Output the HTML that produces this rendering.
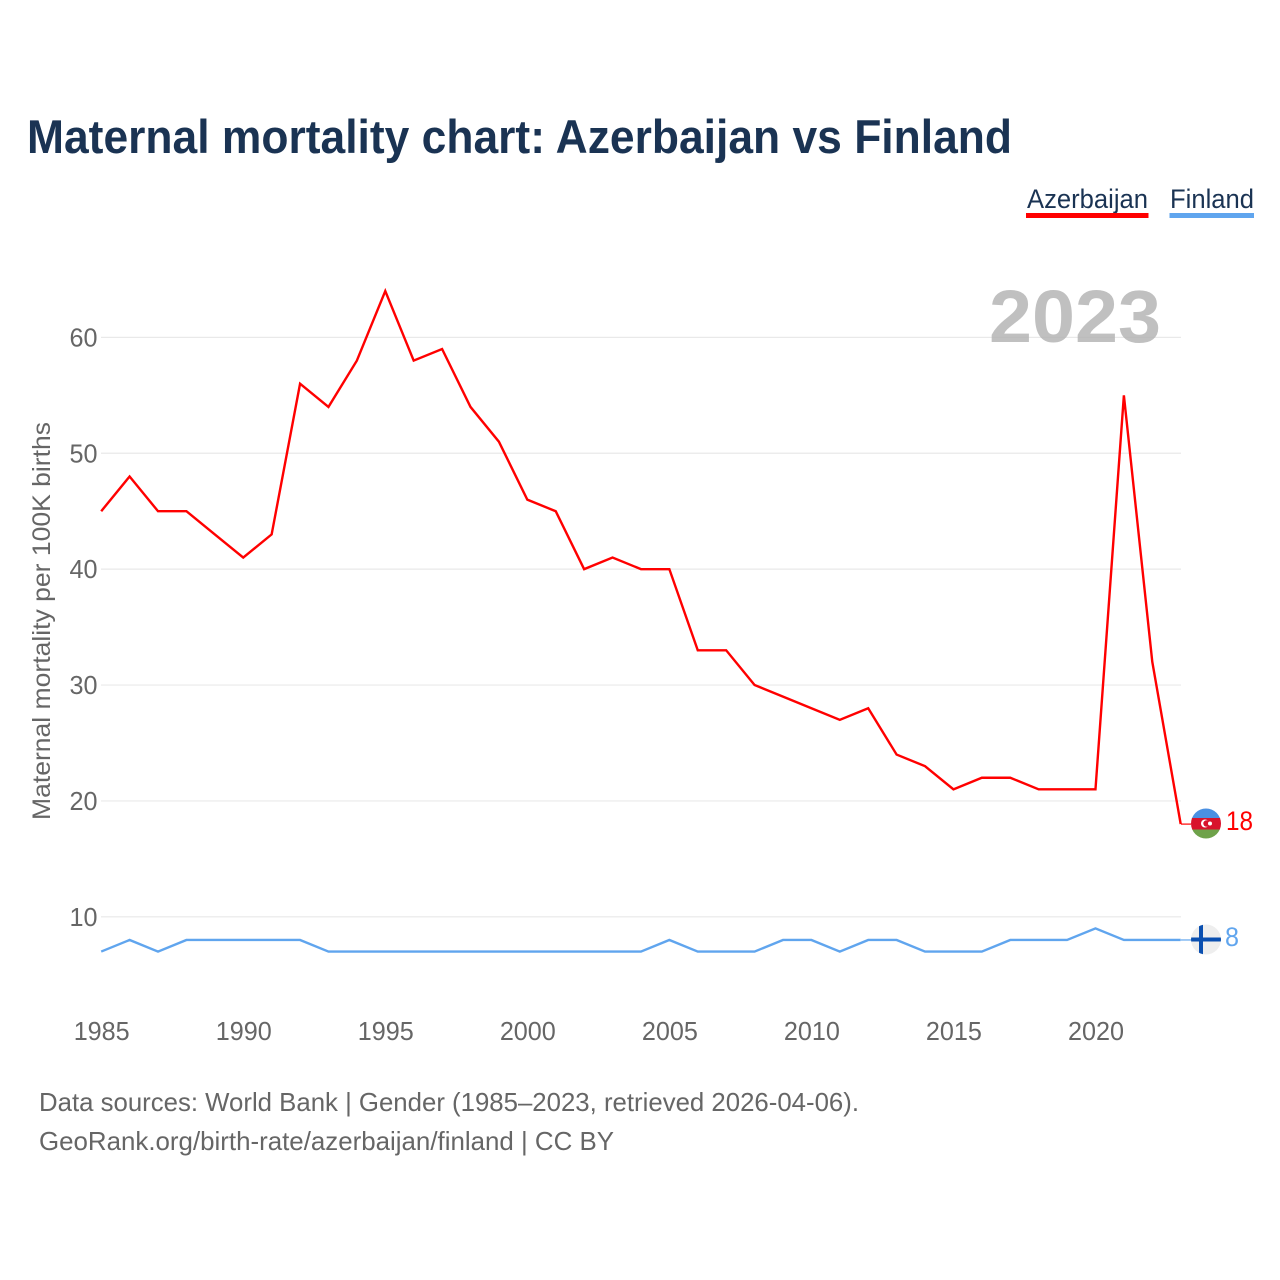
<!DOCTYPE html>
<html lang="en">
<head>
<meta charset="utf-8">
<title>Maternal mortality chart: Azerbaijan vs Finland</title>
<style>
html,body{margin:0;padding:0;background:#fff;}
svg{display:block;font-family:"Liberation Sans",sans-serif;}
</style>
</head>
<body>
<svg id="chart" xmlns="http://www.w3.org/2000/svg" width="1280" height="1280" viewBox="0 0 1280 1280">
  <rect x="0" y="0" width="1280" height="1280" fill="#ffffff"/>
  <text x="27" y="153" font-size="47" font-weight="700" fill="#1a3353" textLength="985" lengthAdjust="spacingAndGlyphs">Maternal mortality chart: Azerbaijan vs Finland</text>

  <g>
    <g>
      <text x="1027" y="208" font-size="27" fill="#1a3353" textLength="121" lengthAdjust="spacingAndGlyphs">Azerbaijan</text>
      <rect x="1026" y="213" width="122.500" height="5" fill="#ff0000"/>
    </g>
    <g>
      <text x="1170" y="208" font-size="27" fill="#1a3353" textLength="84" lengthAdjust="spacingAndGlyphs">Finland</text>
      <rect x="1169.500" y="213" width="84.500" height="5" fill="#60a5ee"/>
    </g>
  </g>

  <g id="grid"></g>
  <g id="yticks"></g>
  <g id="xticks"></g>

  <text transform="translate(50,621) rotate(-90)" text-anchor="middle" font-size="25" fill="#666666" textLength="398" lengthAdjust="spacingAndGlyphs">Maternal mortality per 100K births</text>

  <text x="989" y="342" font-size="74" font-weight="700" fill="#b0b0b0" fill-opacity="0.8" textLength="172" lengthAdjust="spacingAndGlyphs">2023</text>

  <g id="series"></g>

  <g id="flag-az">
    <clipPath id="clip-az"><circle cx="1206" cy="823.500" r="15"/></clipPath>
    <g clip-path="url(#clip-az)">
      <rect x="1191" y="808" width="30" height="11" fill="#4a90e2"/>
      <rect x="1191" y="818" width="30" height="12" fill="#d8132c"/>
      <rect x="1191" y="829.500" width="30" height="10" fill="#6ea24a"/>
      <circle cx="1205" cy="823.500" r="4" fill="#ffffff"/>
      <circle cx="1206.500" cy="823.500" r="3.200" fill="#d8132c"/>
      <circle cx="1210" cy="823.500" r="2" fill="#ffffff"/>
    </g>
  </g>
  <g id="flag-fi">
    <clipPath id="clip-fi"><circle cx="1206" cy="939.500" r="15"/></clipPath>
    <g clip-path="url(#clip-fi)">
      <rect x="1191" y="924" width="30" height="31" fill="#eeeeee"/>
      <rect x="1191" y="937.500" width="30" height="4" fill="#0a4fb0"/>
      <rect x="1199" y="924" width="4" height="31" fill="#0a4fb0"/>
    </g>
  </g>

  <text id="end-az" x="1226" y="830" font-size="27" fill="#ff0000" textLength="27" lengthAdjust="spacingAndGlyphs"></text>
  <text id="end-fi" x="1225" y="946" font-size="27" fill="#60a5ee" textLength="14" lengthAdjust="spacingAndGlyphs"></text>

  <text x="39" y="1111" font-size="26" fill="#666666" textLength="820" lengthAdjust="spacingAndGlyphs">Data sources: World Bank | Gender (1985–2023, retrieved 2026-04-06).</text>
  <text x="39" y="1150" font-size="26" fill="#666666" textLength="575" lengthAdjust="spacingAndGlyphs">GeoRank.org/birth-rate/azerbaijan/finland | CC BY</text>
</svg>
<script>
const years = [1985,1986,1987,1988,1989,1990,1991,1992,1993,1994,1995,1996,1997,1998,1999,2000,2001,2002,2003,2004,2005,2006,2007,2008,2009,2010,2011,2012,2013,2014,2015,2016,2017,2018,2019,2020,2021,2022,2023];
const azerbaijan = [45,48,45,45,43,41,43,56,54,58,64,58,59,54,51,46,45,40,41,40,40,33,33,30,29,28,27,28,24,23,21,22,22,21,21,21,55,32,18];
const finland = [7,8,7,8,8,8,8,8,7,7,7,7,7,7,7,7,7,7,7,7,8,7,7,7,8,8,7,8,8,7,7,7,8,8,8,9,8,8,8];
const yTickValues = [10,20,30,40,50,60];
const xTickValues = [1985,1990,1995,2000,2005,2010,2015,2020];

const NS = 'http://www.w3.org/2000/svg';
function xScale(year){ return 101.2 + (year - 1985) * (1180.7 - 101.2) / (2023 - 1985); }
function yScale(v){ return 916.8 - (v - 10) * (916.8 - 337.4) / 50; }
function make(tag, attrs, parent){
  const el = document.createElementNS(NS, tag);
  for (const k in attrs) el.setAttribute(k, attrs[k]);
  parent.appendChild(el);
  return el;
}

const grid = document.getElementById('grid');
const yticks = document.getElementById('yticks');
yTickValues.forEach(function(t){
  const line = make('line', {x1:101, x2:1181, y1:yScale(t), y2:yScale(t), stroke:'#e9e9e9', 'stroke-width':1.2}, grid);
  
  
  const label = make('text', {x:97.5, y:yScale(t) + 9, 'text-anchor':'end', 'font-size':26, fill:'#666666', textLength:28, lengthAdjust:'spacingAndGlyphs'}, yticks);
  
  
  label.textContent = t;
});

const xticks = document.getElementById('xticks');
xTickValues.forEach(function(t){
  const label = make('text', {x:xScale(t) + 0.5, y:1040, 'text-anchor':'middle', 'font-size':26, fill:'#666666', textLength:56, lengthAdjust:'spacingAndGlyphs'}, xticks);
  
  
  label.textContent = t;
});

function pathFor(values){
  return values.map(function(v, i){ return (i ? 'L' : 'M') + xScale(years[i]).toFixed(2) + ' ' + yScale(v).toFixed(2); }).join(' ');
}
const series = document.getElementById('series');
const lineFi = make('path', {d:pathFor(finland), fill:'none', stroke:'#60a5ee', 'stroke-width':2.4, 'stroke-linejoin':'miter'}, series);


const lineAz = make('path', {d:pathFor(azerbaijan), fill:'none', stroke:'#ff0000', 'stroke-width':2.4, 'stroke-linejoin':'miter'}, series);



const lastAz = azerbaijan[azerbaijan.length - 1];
const lastFi = finland[finland.length - 1];
const connAz = make('line', {x1:1181, x2:1191, y1:yScale(lastAz), y2:yScale(lastAz), stroke:'#ff0000', 'stroke-width':1.2}, series);


const connFi = make('line', {x1:1181, x2:1191, y1:yScale(lastFi), y2:yScale(lastFi), stroke:'#60a5ee', 'stroke-width':1.2}, series);



document.getElementById('end-az').textContent = lastAz;
document.getElementById('end-fi').textContent = lastFi;
</script>
</body>
</html>
